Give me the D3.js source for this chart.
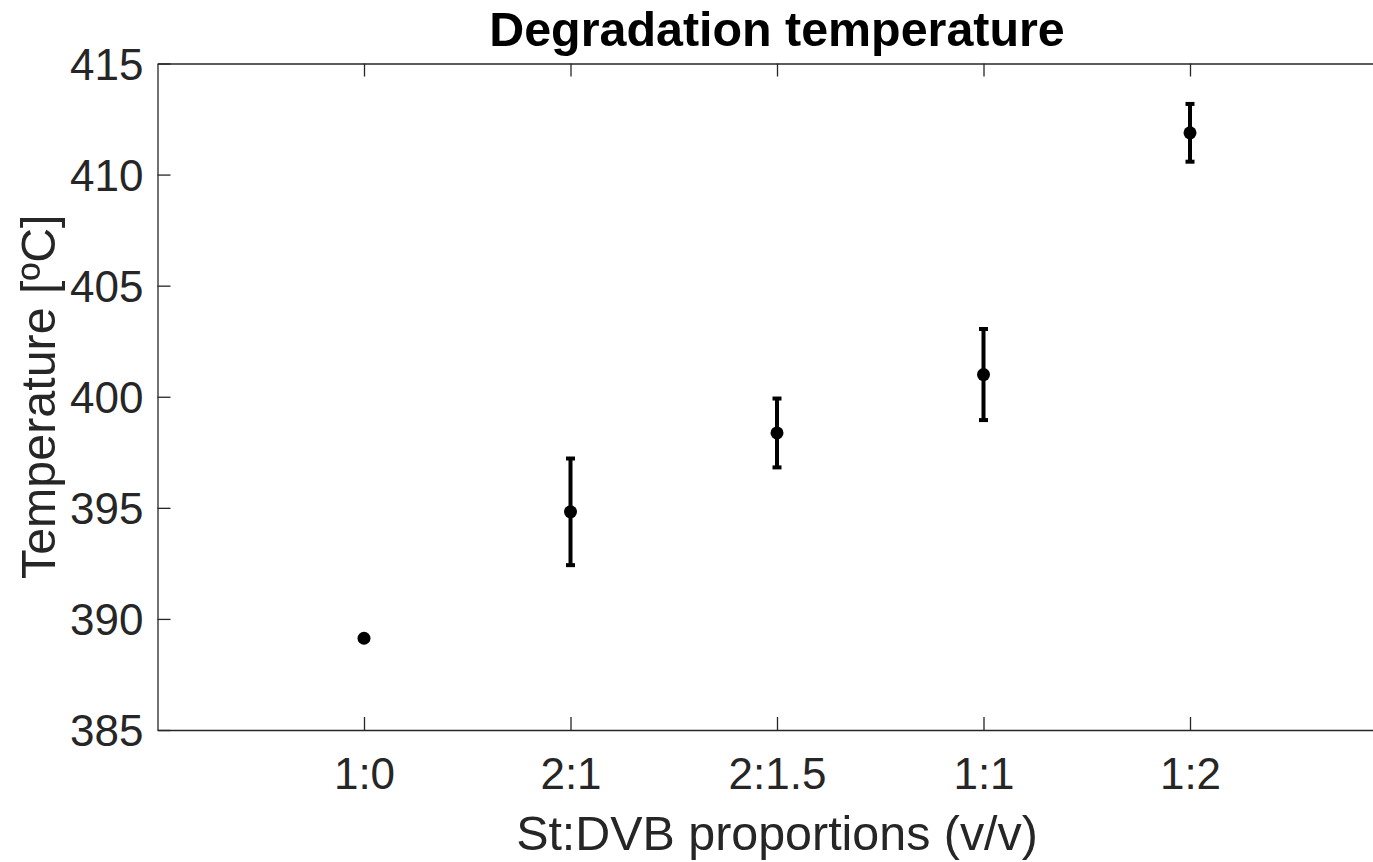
<!DOCTYPE html>
<html>
<head>
<meta charset="utf-8">
<script src="https://cdn.jsdelivr.net/npm/d3@7"></script>
<style>
  html, body { margin: 0; padding: 0; background: #fff; overflow: hidden; }
  svg { display: block; font-family: "Liberation Sans", Arial, sans-serif; }
</style>
</head>
<body>
<svg id="chart" width="1373" height="862"></svg>
<script>
const categories = ["1:0", "2:1", "2:1.5", "1:1", "1:2"];
const meanValues = [389.13, 394.82, 398.37, 401.0, 411.88];
const errValues  = [0, 2.4, 1.55, 2.05, 1.3];
const yTicks = [385, 390, 395, 400, 405, 410, 415];
const titleText = "Degradation temperature";
const xLabelText = "St:DVB proportions (v/v)";
const yLabelText = "Temperature [ºC]";

(function () {
const svg = d3.select("#chart");
const pL = 157.5, pR = 1396.5, pT = 63.5, pB = 730;
const axisColor = "#262626";

const x = d3.scaleLinear().domain([0, categories.length + 1]).range([pL, pR]);
const y = d3.scaleLinear().domain([385, 415]).range([pB, pT]);
const xPos = i => x(i + 1);

const xAxisB = d3.axisBottom(x).tickValues(categories.map((_, i) => i + 1))
  .tickFormat(d => categories[d - 1]).tickSizeInner(-13).tickSizeOuter(0).tickPadding(28);
const xAxisT = d3.axisTop(x).tickValues(categories.map((_, i) => i + 1))
  .tickFormat("").tickSizeInner(-13).tickSizeOuter(0);
const yAxisL = d3.axisLeft(y).tickValues(yTicks).tickFormat(d3.format("d"))
  .tickSizeInner(-13).tickSizeOuter(0).tickPadding(14);

function styleAxis(g) {
  g.select(".domain").attr("stroke", axisColor).attr("stroke-width", 1.3);
  g.selectAll(".tick line").attr("stroke", axisColor).attr("stroke-width", 1.3);
  g.selectAll(".tick text").attr("fill", axisColor)
    .style("font-size", "44px").style("font-family", "'Liberation Sans', Arial, sans-serif");
}

svg.append("g").attr("transform", `translate(0,${pB})`).call(xAxisB).call(styleAxis);
svg.append("g").attr("transform", `translate(0,${pT})`).call(xAxisT).call(styleAxis);
svg.append("g").attr("transform", `translate(${pL},0)`).call(yAxisL).call(styleAxis)
  .selectAll(".tick text").attr("dy", "0.36em");

const data = categories.map((c, i) => ({ c, i, m: meanValues[i], e: errValues[i] }));
const eb = svg.append("g");
data.filter(d => d.e > 0).forEach(d => {
  const cx = xPos(d.i);
  eb.append("line").attr("x1", cx).attr("x2", cx)
    .attr("y1", y(d.m - d.e)).attr("y2", y(d.m + d.e))
    .attr("stroke", "#000").attr("stroke-width", 4);
  [d.m - d.e, d.m + d.e].forEach(v => {
    eb.append("line").attr("x1", cx - 4.5).attr("x2", cx + 4.5)
      .attr("y1", y(v)).attr("y2", y(v))
      .attr("stroke", "#000").attr("stroke-width", 4);
  });
});

svg.append("g").selectAll("circle").data(data).join("circle")
  .attr("cx", d => xPos(d.i)).attr("cy", d => y(d.m))
  .attr("r", 6.5).attr("fill", "#000");

svg.append("text").attr("x", (pL + pR) / 2).attr("y", 46)
  .attr("text-anchor", "middle").style("font-size", "48.4px").style("font-weight", "bold")
  .attr("fill", "#000").text(titleText);
svg.append("text").attr("x", (pL + pR) / 2).attr("y", 850)
  .attr("text-anchor", "middle").style("font-size", "48.4px")
  .attr("fill", axisColor).text(xLabelText);
svg.append("text").attr("transform", `translate(55,${(pT + pB) / 2}) rotate(-90)`)
  .attr("text-anchor", "middle").style("font-size", "48.4px")
  .attr("fill", axisColor).text(yLabelText);
})();
</script>
</body>
</html>
